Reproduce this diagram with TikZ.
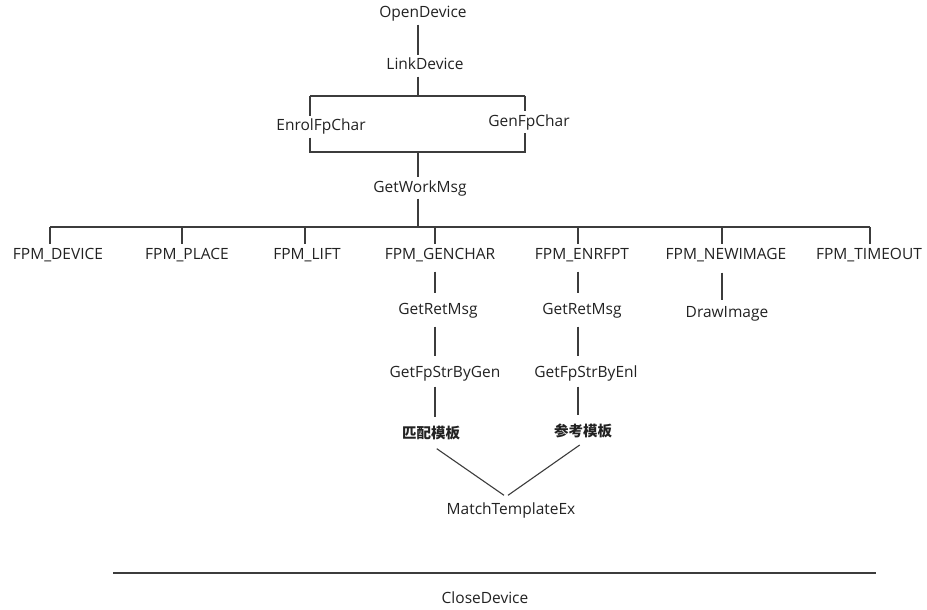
\documentclass[tikz,border=0pt]{standalone}
\usepackage{fontspec}
\setmainfont{Open Sans}
\newfontfamily\cjk{Noto Sans CJK SC}
\usetikzlibrary{calc}
\definecolor{txtc}{HTML}{222222}
\definecolor{lnc}{HTML}{3C3C3C}
\begin{document}
\begin{tikzpicture}[x=1pt,y=-1pt,
  lbl/.style={inner sep=3pt, text height=11.5pt, text depth=3.5pt,
    font=\fontsize{15.5}{19}\selectfont, text=txtc},
  cjklbl/.style={lbl, font=\cjk\bfseries\fontsize{14.5}{17}\selectfont},
  ln/.style={draw=lnc, line width=1.1pt},
  vc/.style={ln, shorten <=6pt, shorten >=6pt}]
\useasboundingbox[fill=white] (0,0) rectangle (927,610);

% nodes
\node[lbl] (open)  at (423,14)  {OpenDevice};
\node[lbl] (link)  at (425,66)  {LinkDevice};
\node[lbl] (enrol) at (321,127) {EnrolFpChar};
\node[lbl] (gen)   at (529,122) {GenFpChar};
\node[lbl] (work)  at (420,188) {GetWorkMsg};

\node[lbl] (dev)     at (58,255)  {FPM\_DEVICE};
\node[lbl] (place)   at (187,255) {FPM\_PLACE};
\node[lbl] (lift)    at (307,255) {FPM\_LIFT};
\node[lbl] (genchar) at (440,255) {FPM\_GENCHAR};
\node[lbl] (enrfpt)  at (582,255) {FPM\_ENRFPT};
\node[lbl] (newimg)  at (726,255) {FPM\_NEWIMAGE};
\node[lbl] (timeout) at (869,255) {FPM\_TIMEOUT};

\node[lbl] (ret1)   at (438,310) {GetRetMsg};
\node[lbl] (fpgen)  at (445,373) {GetFpStrByGen};
\node[cjklbl] (pipei)  at (431,434) {匹配模板};
\node[lbl] (ret2)   at (582,310) {GetRetMsg};
\node[lbl] (fpenl)  at (586,373) {GetFpStrByEnl};
\node[cjklbl] (cankao) at (583,432) {参考模板};
\node[lbl] (drawimg) at (727,313) {DrawImage};
\node[lbl] (match)  at (511,510) {MatchTemplateEx};
\node[lbl] (close)  at (485,599) {CloseDevice};

% helper coordinates
\coordinate (trunk) at (418,0);
\coordinate (btl) at (310,96);
\coordinate (btr) at (525,96);
\coordinate (bbl) at (310,152);
\coordinate (bbr) at (525,152);
\coordinate (hl) at (50,227);
\coordinate (hr) at (870,227);
\coordinate (t1) at (50,227);
\coordinate (t2) at (182,227);
\coordinate (t3) at (305,227);
\coordinate (t4) at (435,227);
\coordinate (t5) at (578,227);
\coordinate (t6) at (722,227);
\coordinate (t7) at (870,227);
\coordinate (cl) at (113,573);
\coordinate (cr) at (876,573);

% top chain
\draw[ln] (trunk |- open.south) -- (trunk |- link.north);
\draw[ln] (trunk |- link.south) -- (trunk |- btl);
\draw[ln] (btl) -- (btr);
\draw[ln] (btl) -- (btl |- enrol.north);
\draw[ln] (bbl |- enrol.south) -- (bbl) -- (bbr) -- (bbr |- gen.south);
\draw[ln] (btr) -- (btr |- gen.north);
\draw[ln] (trunk |- bbl) -- (trunk |- work.north);
\draw[ln] (trunk |- work.south) -- (trunk |- hl);

% message bar
\draw[ln] (hl) -- (hr);
\draw[ln] (t1) -- (t1 |- dev.north);
\draw[ln] (t2) -- (t2 |- place.north);
\draw[ln] (t3) -- (t3 |- lift.north);
\draw[ln] (t4) -- (t4 |- genchar.north);
\draw[ln] (t5) -- (t5 |- enrfpt.north);
\draw[ln] (t6) -- (t6 |- newimg.north);
\draw[ln] (t7) -- (t7 |- timeout.north);

% branches
\draw[vc] (t4 |- genchar.south) -- (t4 |- ret1.north);
\draw[vc] (t4 |- ret1.south) -- (t4 |- fpgen.north);
\draw[vc, shorten <=3pt] (t4 |- fpgen.south) -- (t4 |- pipei.north);
\draw[vc] (t5 |- enrfpt.south) -- (t5 |- ret2.north);
\draw[vc] (t5 |- ret2.south) -- (t5 |- fpenl.north);
\draw[vc, shorten <=3pt] (t5 |- fpenl.south) -- (t5 |- cankao.north);
\draw[vc, shorten <=7pt, shorten >=2pt] (t6 |- newimg.south) -- (t6 |- drawimg.north);

\draw[ln, shorten <=7pt] (pipei.south) -- ([xshift=-7pt,yshift=4pt]match.north);
\draw[ln, shorten <=4pt] (cankao.south) -- ([xshift=-3pt,yshift=4pt]match.north);

% close
\draw[ln] (cl) -- (cr);
\end{tikzpicture}
\end{document}
